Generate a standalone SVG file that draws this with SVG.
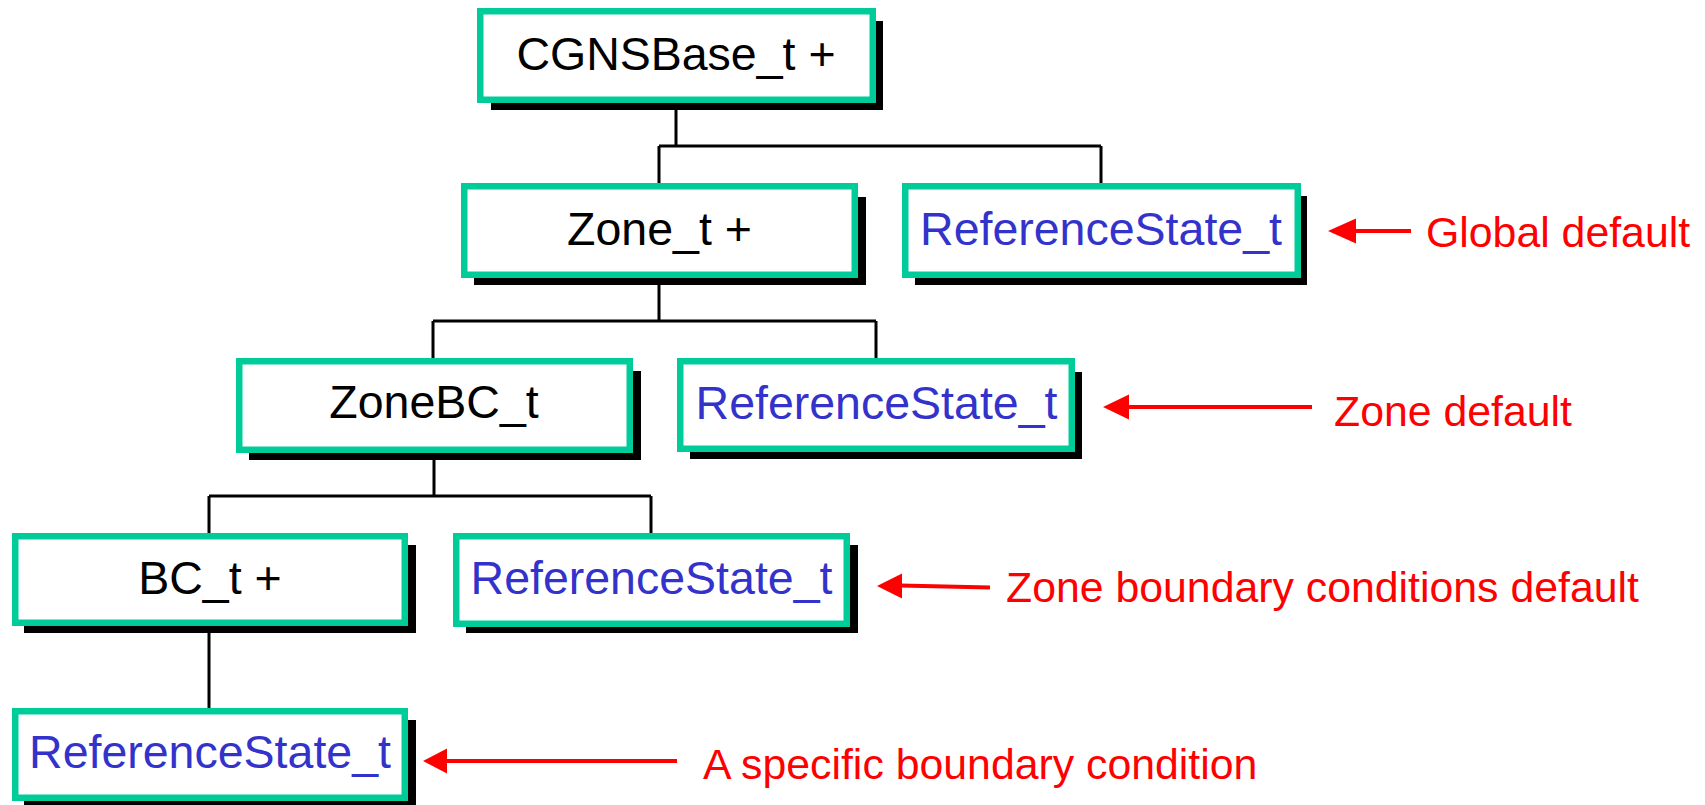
<svg xmlns="http://www.w3.org/2000/svg" width="1705" height="805" viewBox="0 0 1705 805">
<style>
.box{fill:#ffffff;stroke:#00CC99;stroke-width:6.5}
.shadow{fill:#000000}
.nt{font-family:"Liberation Sans",Arial,sans-serif;font-size:46.5px;text-anchor:middle}
.blk{fill:#000000}
.blu{fill:#3333CC}
.conn{stroke:#000000;stroke-width:3;fill:none}
.arr{stroke:#FF0000;stroke-width:4;fill:none}
.head{fill:#FF0000}
.lbl{font-family:"Liberation Sans",Arial,sans-serif;font-size:42.8px;fill:#FF0000}
</style>
<rect width="1705" height="805" fill="#ffffff"/>
<g id="connectors">
<path class="conn" d="M676,103 V146 M659,146 H1101 M659,146 V183 M1101,146 V183"/>
<path class="conn" d="M659,278 V321 M433,321 H876 M433,321 V358 M876,321 V358"/>
<path class="conn" d="M434,453 V496 M209,496 H651 M209,496 V533 M651,496 V533"/>
<path class="conn" d="M209,626 V708"/>
</g>
<g id="node-cgnsbase">
<rect class="shadow" x="491" y="21" width="392" height="89"/>
<rect class="box" x="480.25" y="11.25" width="392.5" height="88.5"/>
<text class="nt blk" x="676" y="70">CGNSBase_t +</text>
</g>
<g id="node-zone">
<rect class="shadow" x="474" y="197" width="392" height="88"/>
<rect class="box" x="464.25" y="186.25" width="390.5" height="88.5"/>
<text class="nt blk" x="659.5" y="245">Zone_t +</text>
</g>
<g id="node-refstate-global">
<rect class="shadow" x="915" y="196" width="392" height="89"/>
<rect class="box" x="905.25" y="186.25" width="392.5" height="88.5"/>
<text class="nt blu" x="1101" y="245">ReferenceState_t</text>
</g>
<g id="node-zonebc">
<rect class="shadow" x="249" y="371" width="392" height="89"/>
<rect class="box" x="239.25" y="361.25" width="390.5" height="88.5"/>
<text class="nt blk" x="434" y="418">ZoneBC_t</text>
</g>
<g id="node-refstate-zone">
<rect class="shadow" x="690" y="372" width="392" height="87"/>
<rect class="box" x="680.25" y="361.25" width="391.5" height="87.5"/>
<text class="nt blu" x="876.5" y="419">ReferenceState_t</text>
</g>
<g id="node-bc">
<rect class="shadow" x="24" y="545" width="392" height="88"/>
<rect class="box" x="15.25" y="536.25" width="389.5" height="86.5"/>
<text class="nt blk" x="210" y="594">BC_t +</text>
</g>
<g id="node-refstate-zonebc">
<rect class="shadow" x="466" y="545" width="392" height="88"/>
<rect class="box" x="456.25" y="536.25" width="390.5" height="87.5"/>
<text class="nt blu" x="651.5" y="594">ReferenceState_t</text>
</g>
<g id="node-refstate-bc">
<rect class="shadow" x="24" y="720" width="392" height="88"/>
<rect class="box" x="15.25" y="711.25" width="389.5" height="86.5"/>
<text class="nt blu" x="210" y="768">ReferenceState_t</text>
</g>
<g id="annotations">
<line class="arr" x1="1354" y1="231" x2="1411" y2="231"/>
<polygon class="head" points="1328,231 1356,218.5 1356,243.5"/>
<text class="lbl" x="1426" y="247">Global default</text>
<line class="arr" x1="1127" y1="407" x2="1312" y2="407"/>
<polygon class="head" points="1103,407 1129,394.5 1129,419.5"/>
<text class="lbl" x="1334" y="426">Zone default</text>
<line class="arr" x1="900" y1="585.5" x2="990" y2="587.5"/>
<polygon class="head" points="877,586 902,573.5 902,598.5"/>
<text class="lbl" x="1006" y="602">Zone boundary conditions default</text>
<line class="arr" x1="445" y1="761" x2="677" y2="761"/>
<polygon class="head" points="423,761 447,748.5 447,773.5"/>
<text class="lbl" x="703" y="779">A specific boundary condition</text>
</g>
</svg>
